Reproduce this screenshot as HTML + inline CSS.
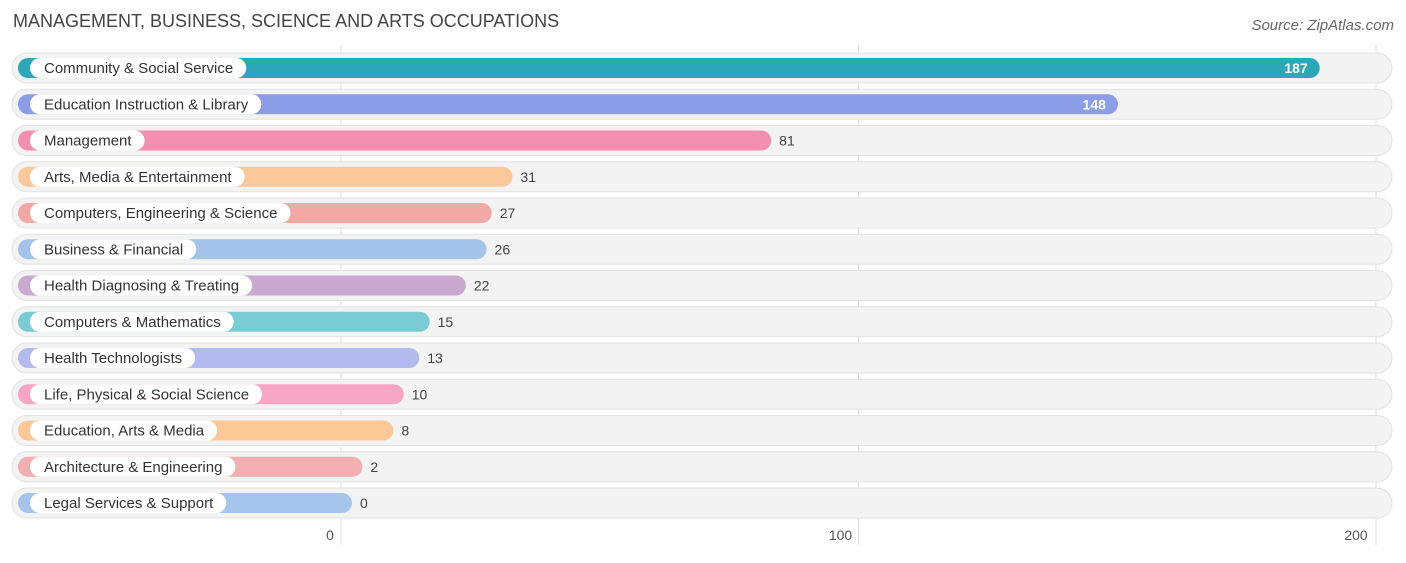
<!DOCTYPE html>
<html><head><meta charset="utf-8"><style>
body{margin:0;background:#fff;font-family:"Liberation Sans",sans-serif;}
svg text{font-family:"Liberation Sans",sans-serif;}
</style></head><body>
<svg id="chart" width="1406" height="558" viewBox="0 0 1406 558" xmlns="http://www.w3.org/2000/svg">
<text x="13" y="27" font-size="18" fill="#444">MANAGEMENT, BUSINESS, SCIENCE AND ARTS OCCUPATIONS</text>
<text x="1394" y="30" font-size="15" fill="#666" text-anchor="end" font-style="italic">Source: ZipAtlas.com</text>
<g id="grid"></g><g id="rows"></g><g id="ticks"></g>
</svg>
<script>
const categories=["Community & Social Service","Education Instruction & Library","Management","Arts, Media & Entertainment","Computers, Engineering & Science","Business & Financial","Health Diagnosing & Treating","Computers & Mathematics","Health Technologists","Life, Physical & Social Science","Education, Arts & Media","Architecture & Engineering","Legal Services & Support"];
const values=[187,148,81,31,27,26,22,15,13,10,8,2,0];
const colors=["#2aa8b8","#8b9de6","#f48fb1","#fbc89a","#f2a9a5","#a4c3ea","#c9a9cf","#7accd4","#b3bbee","#f6a6c2","#fbc896","#f2aeb0","#a6c5ec"];
const tickValues=[0,100,200];
const NS="http://www.w3.org/2000/svg";
const x=v=>341+v*5.175;
const yc=i=>68+i*36.25;
function mk(t,a,p){const e=document.createElementNS(NS,t);for(const k in a)e.setAttribute(k,a[k]);p.appendChild(e);return e;}
const grid=document.getElementById('grid'),rows=document.getElementById('rows'),ticks=document.getElementById('ticks');
tickValues.forEach(t=>{
 const l=mk('line',{x1:x(t),x2:x(t),y1:45,y2:545,stroke:'#ddd','stroke-width':1},grid);
 
 
 const tx=mk('text',{x:x(t)-(t===0?11:t===100?18:20),y:540,'font-size':14,fill:'#555','text-anchor':'middle'},ticks);
 tx.textContent=t;
 
 
});
categories.forEach((c,i)=>{
 const y=yc(i);
 const g=mk('g',{},rows);
 
 
 const bg=mk('rect',{x:12,y:y-15,width:1380,height:30,rx:15,fill:'#f3f3f3',stroke:'#e2e2e2'},g);
 
 
 const end=x(values[i])+11;
 const b=mk('rect',{x:18,y:y-10,width:end-18,height:20,rx:10,fill:colors[i]},g);
 
 
 const lp=mk('rect',{x:30,y:y-10,width:100,height:20,rx:10,fill:'#fff'},g);
 
 
 const lt=mk('text',{x:44,y:y+5,'font-size':15,fill:'#333'},g);
 lt.textContent=c;
 
 
 lp.setAttribute('width',lt.getComputedTextLength()+27);
 const inside=values[i]>100;
 const vt=mk('text',{x:inside?end-12:end+8,y:y+5,'font-size':14,fill:inside?'#fff':'#444','text-anchor':inside?'end':'start','font-weight':inside?'600':'normal'},g);
 vt.textContent=values[i];
 
 
});
</script>
</body></html>
